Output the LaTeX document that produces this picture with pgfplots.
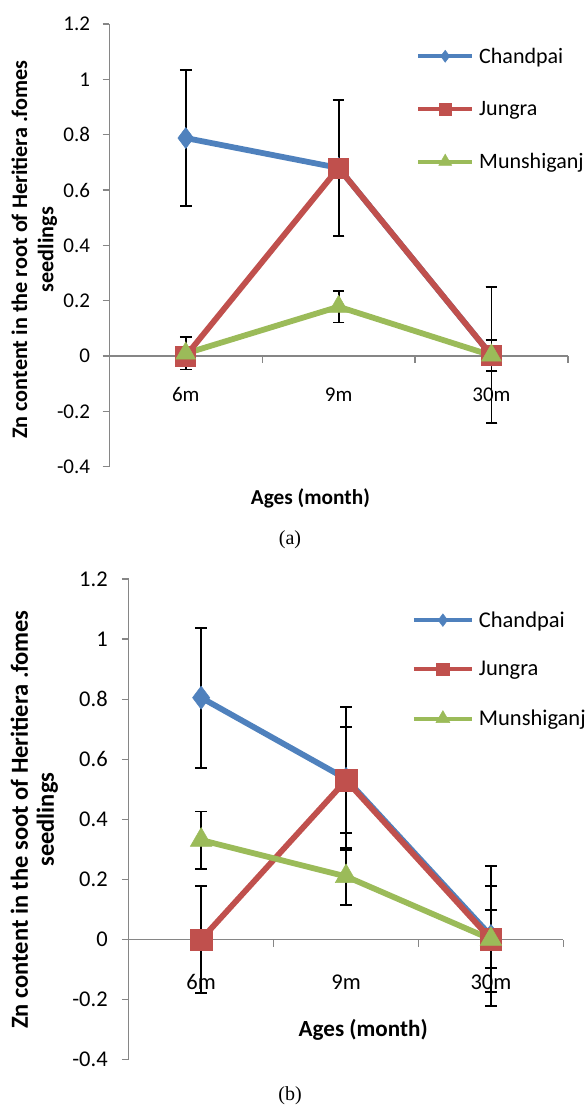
\documentclass[border=0pt]{standalone}
\usepackage{pgfplots}
\pgfplotsset{compat=1.18}
\usepackage{fontspec}
\setmainfont{Carlito}
\newfontfamily\capfont{Liberation Serif}
\definecolor{cblue}{HTML}{4F81BD}
\definecolor{cred}{HTML}{C0504D}
\definecolor{cgreen}{HTML}{9BBB59}
\definecolor{axgray}{HTML}{868686}
\pgfplotsset{
  excel/.style={
    scale only axis, xmin=-0.5, xmax=2.5, ymin=-0.4, ymax=1.2,
    axis y line=left, axis x line=middle,
    axis line style={axgray, line width=1.3pt, -},
    hide obscured x ticks=false, hide obscured y ticks=false,
    xtick={0,1,2}, xticklabels={6m,9m,30m},
    minor xtick={-0.5,0.5,1.5,2.5},
    major x tick style={draw=none},
    minor x tick style={axgray, line width=1.3pt},
    ytick={-0.4,-0.2,0,0.2,0.4,0.6,0.8,1,1.2},
    yticklabels={-0.4,-0.2,0,0.2,0.4,0.6,0.8,1,1.2},
    y tick style={axgray, line width=1.3pt},
    tick align=outside,
    major tick length=6.7pt, minor tick length=7pt,
    clip=false,
    legend cell align=left,
    error bars/y dir=both, error bars/y explicit,
    error bars/error bar style={black, line width=1.9pt},
    error bars/error mark options={black, rotate=90, mark size=5.8pt, line width=1.9pt},
  },
  ser/.style={color=#1, line width=5.8pt, mark options={solid, draw=#1, fill=#1, line width=0.5pt}},
}
\begin{document}
\begin{tikzpicture}
\useasboundingbox (0pt,0pt) rectangle (585pt,1105pt);
% ---------------- panel (a) ----------------
\begin{axis}[excel,
  at={(109.3pt,638.4pt)}, anchor=south west,
  width=458.6pt, height=442.5pt,
  xticklabel style={font=\fontsize{21}{25}\selectfont, anchor=center, yshift=-32pt},
  yticklabel style={font=\fontsize{21}{25}\selectfont, xshift=-9pt},
  ylabel={Zn content in the root of Heritiera .fomes\\seedlings},
  ylabel style={at={(axis description cs:-0.1634,0.490)}, anchor=center, align=center,
    font=\bfseries\fontsize{22.2}{26.1}\selectfont},
  xlabel={Ages (month)},
  xlabel style={at={(axis description cs:0.4385,-0.0716)}, anchor=center,
    font=\bfseries\fontsize{21.3}{25}\selectfont},
  legend image code/.code={\draw[#1, mark=none] (0pt,0pt) -- (54pt,0pt);
     \draw[#1, only marks] plot coordinates {(27pt,0pt)};},
  legend style={at={(axis description cs:0.6688,0.9467)}, anchor=north west,
    draw=none, fill=none, inner sep=0pt, row sep=36.5pt, column sep=5pt,
    font=\fontsize{22}{26}\selectfont,
    nodes={inner sep=0pt}},
]
\addplot[ser=cblue, mark=diamond*, mark size=10.5pt, forget plot]
  coordinates {(0,0.788) +- (0,0.247) (1,0.680) +- (0,0.247) (2,0.002) +- (0,0.246)};
\addplot[ser=cred, mark=square*, mark size=10pt, forget plot]
  coordinates {(0,0) +- (0,0) (1,0.680) +- (0,0.247) (2,0.002) +- (0,0.246)};
\addplot[ser=cgreen, mark=triangle*, mark size=11.5pt, forget plot]
  coordinates {(0,0.009) +- (0,0.058) (1,0.178) +- (0,0.057) (2,0.002) +- (0,0.056)};
\addlegendimage{cblue, line width=4pt, mark=diamond*, mark size=6pt, mark options={solid, fill=cblue, line width=0.5pt}}
\addlegendentry{Chandpai}
\addlegendimage{cred, line width=4pt, mark=square*, mark size=5.8pt, mark options={solid, fill=cred, line width=0.5pt}}
\addlegendentry{Jungra}
\addlegendimage{cgreen, line width=4pt, mark=triangle*, mark size=7.5pt, mark options={solid, fill=cgreen, line width=0.5pt}}
\addlegendentry{Munshiganj}
\end{axis}
\node[font=\capfont\fontsize{20}{24}\selectfont] at (290pt,565.7pt) {(a)};
% ---------------- panel (b) ----------------
\begin{axis}[excel,
  at={(128.7pt,45.3pt)}, anchor=south west,
  width=434.7pt, height=480.7pt,
  xticklabel style={font=\fontsize{22.5}{27}\selectfont, anchor=center, yshift=-36pt},
  yticklabel style={font=\fontsize{22.5}{27}\selectfont, xshift=-10.8pt},
  ylabel={Zn content in the soot of Heritiera .fomes\\seedlings},
  ylabel style={at={(axis description cs:-0.217,0.4995)}, anchor=center, align=center,
    font=\bfseries\fontsize{24.5}{26.1}\selectfont},
  xlabel={Ages (month)},
  xlabel style={at={(axis description cs:0.5395,0.0612)}, anchor=center,
    font=\bfseries\fontsize{23.1}{27}\selectfont},
  legend image code/.code={\draw[#1, mark=none] (0pt,0pt) -- (58pt,0pt);
     \draw[#1, only marks] plot coordinates {(29pt,0pt)};},
  legend style={at={(axis description cs:0.651,0.9326)}, anchor=north west,
    draw=none, fill=none, inner sep=0pt, row sep=32.7pt, column sep=5pt,
    font=\fontsize{22.5}{27}\selectfont,
    nodes={inner sep=0pt}},
]
\addplot[ser=cblue, mark=diamond*, mark size=11.5pt, forget plot]
  coordinates {(0,0.805) +- (0,0.233) (1,0.535) +- (0,0.238) (2,0.012) +- (0,0.233)};
\addplot[ser=cred, mark=square*, mark size=10.7pt, forget plot]
  coordinates {(0,0) +- (0,0.177) (1,0.530) +- (0,0.176) (2,0.001) +- (0,0.176)};
\addplot[ser=cgreen, mark=triangle*, mark size=12.5pt, forget plot]
  coordinates {(0,0.331) +- (0,0.095) (1,0.210) +- (0,0.095) (2,0.001) +- (0,0.096)};
\addlegendimage{cblue, line width=4pt, mark=diamond*, mark size=6.3pt, mark options={solid, fill=cblue, line width=0.5pt}}
\addlegendentry{Chandpai}
\addlegendimage{cred, line width=4pt, mark=square*, mark size=6.2pt, mark options={solid, fill=cred, line width=0.5pt}}
\addlegendentry{Jungra}
\addlegendimage{cgreen, line width=4pt, mark=triangle*, mark size=8pt, mark options={solid, fill=cgreen, line width=0.5pt}}
\addlegendentry{Munshiganj}
\end{axis}
\node[font=\capfont\fontsize{20}{24}\selectfont] at (290pt,9.3pt) {(b)};
\end{tikzpicture}
\end{document}
